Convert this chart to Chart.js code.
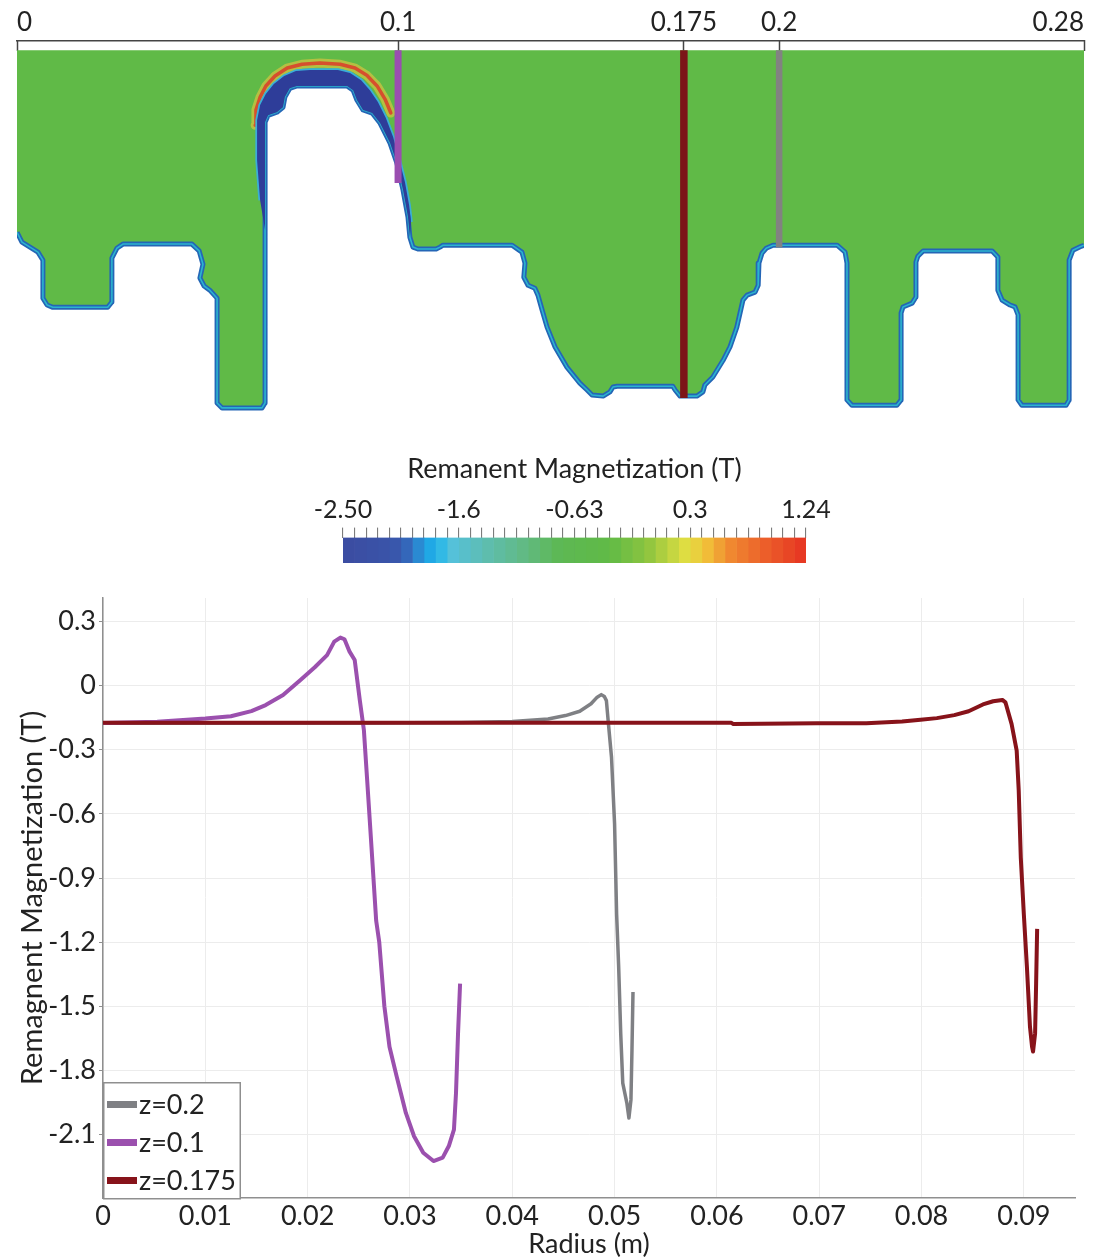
<!DOCTYPE html>
<html><head><meta charset="utf-8">
<script src="https://cdn.jsdelivr.net/npm/chart.js@4.4.1/dist/chart.umd.min.js"></script>
<style>
html,body{margin:0;padding:0;background:#fff;}
body{width:1102px;height:1260px;position:relative;overflow:hidden;}
.box{position:absolute;}
</style></head><body>
<div class="box" style="left:0;top:0;width:1102px;height:430px"><canvas id="geo"></canvas></div>
<div class="box" style="left:275px;top:445px;width:600px;height:125px"><canvas id="cbar"></canvas></div>
<div class="box" style="left:0;top:580px;width:1102px;height:680px"><canvas id="plot"></canvas></div>
<script>
// ================= DATA =================
// top cross-section: axis z (m), outline in millimetres [z, r]
const zRange = [0, 0.28];
const zTickValues = [0, 0.1, 0.175, 0.2, 0.28];
const zTickLabels = ['0', '0.1', '0.175', '0.2', '0.28'];
const rDepthRange = [-0.0024, 0.0997];
const boundaryMM = [
[280,51.2],[279.0,51.6],[277.1,52.5],[276.1,55.1],[276.1,91.8],[275.3,93.2],[263.7,93.2],[262.7,91.8],[262.7,69.5],[261.9,67.4],[260.6,66.9],[258.5,65.6],[257.4,63.0],[257.4,54.3],[255.9,52.7],[237.8,52.7],[236.4,54.1],[235.9,55.6],[235.9,64.8],[234.9,66.4],[232.5,67.4],[232.0,69.0],[232.0,91.8],[230.9,93.2],[219.1,93.2],[217.8,91.8],[217.8,55.9],[217.3,53.0],[215.2,51.2],[198.4,51.2],[196.6,52.0],[195.5,53.3],[194.7,55.9],[194.5,61.7],[193.7,63.5],[191.6,64.3],[190.5,65.6],[188.9,72.7],[187.1,77.9],[185.3,81.4],[182.6,85.8],[180.5,87.9],[180.0,89.7],[178.4,90.8],[174.0,90.8],[172.7,89.2],[172.1,88.2],[157.5,88.2],[156.4,88.4],[155.6,89.7],[153.8,90.8],[150.9,90.5],[149.6,89.2],[147.7,87.4],[144.3,83.2],[141.2,77.9],[139.1,72.7],[137.8,68.2],[136.7,64.3],[135.9,62.5],[134.1,61.7],[133.0,59.6],[133.3,55.9],[132.5,53.0],[129.9,51.2],[111.8,51.2],[111.0,51.7],[110.0,52.2],[105.2,52.2],[103.9,51.7],[103.1,49.1],[102.6,43.8],[101.3,36.7],[99.7,29.7],[97.9,24.4],[95.3,19.2],[93.2,16.5],[90.8,15.7],[89.2,13.1],[88.2,10.5],[86.6,9.4],[73.5,9.4],[71.6,10.0],[70.3,12.3],[69.8,15.0],[68.2,16.3],[65.9,17.1],[65.1,18.9],[65.1,92.6],[64.3,93.9],[53.8,93.9],[52.5,92.6],[52.5,65.1],[50.6,63.0],[49.1,61.9],[48.0,59.8],[48.8,56.2],[47.8,52.7],[45.9,50.9],[27.8,50.9],[26.2,52.0],[24.9,54.6],[24.9,66.1],[23.8,67.5],[9.4,67.5],[7.9,66.9],[6.8,65.1],[6.8,55.1],[5.5,53.0],[3.4,51.7],[1.3,50.4],[0,47.8]
];
const archOuterMM = [
[63.8,39.4],[63.0,28.9],[63.0,18.4],[63.8,14.4],[65.3,11.5],[67.4,8.9],[70.1,6.8],[73.2,5.5],[76.9,5.2],[84.2,5.2],[87.4,6.0],[90.3,7.9],[92.6,10.5],[94.7,13.6],[96.8,17.8],[98.7,22.8],[100.2,28.3],[101.8,34.6],[102.9,40.7],[103.4,45.1]
];
const archInnerMM = [
[103.1,49.1],[102.6,43.8],[101.3,36.7],[99.7,29.7],[97.9,24.4],[95.3,19.2],[93.2,16.5],[90.8,15.7],[89.2,13.1],[88.2,10.5],[86.6,9.4],[73.5,9.4],[71.6,10.0],[70.3,12.3],[69.8,15.0],[68.2,16.3],[65.9,17.1],[65.1,18.9],[65.1,47.2]
];
const archPeakMM = [
[62.5,19.7],[62.7,15.7],[63.8,12.3],[65.3,9.4],[67.7,6.8],[70.9,4.7],[74.8,3.7],[79.5,3.4],[84.8,3.7],[88.7,4.7],[91.8,6.6],[94.5,9.4],[96.6,12.9],[98.1,16.5]
];

// colour bar
const cbRange = [-2.5, 1.24];
const cbMajorValues = [-2.5, -1.565, -0.63, 0.305, 1.24];
const cbMajorLabels = ['-2.50', '-1.6', '-0.63', '0.3', '1.24'];
const cbMinorPerMajor = 10;
const cbBands = 40;

// line plot
const seriesLabels = ['z=0.2', 'z=0.1', 'z=0.175'];
const probeZ = [0.2, 0.1, 0.175];
const r02 = [0, 0.025, 0.035, 0.040, 0.0435, 0.0452, 0.0466, 0.0477, 0.0483, 0.0487, 0.0490, 0.0492, 0.0494, 0.0497, 0.0500, 0.0502, 0.0504, 0.0506, 0.0508, 0.0512, 0.0514, 0.0516, 0.0517, 0.0518];
const m02 = [-0.176, -0.175, -0.172, -0.168, -0.156, -0.140, -0.120, -0.085, -0.054, -0.042, -0.051, -0.070, -0.179, -0.335, -0.647, -1.070, -1.316, -1.627, -1.860, -1.953, -2.023, -1.938, -1.705, -1.433];
const r01 = [0, 0.0053, 0.0100, 0.0125, 0.0145, 0.0159, 0.0176, 0.0193, 0.0207, 0.0219, 0.0226, 0.0232, 0.0236, 0.0241, 0.0246, 0.0251, 0.0255, 0.0258, 0.0262, 0.0267, 0.0270, 0.0275, 0.0280, 0.0287, 0.0296, 0.0304, 0.0313, 0.0323, 0.0332, 0.0338, 0.0343, 0.0345, 0.0347, 0.0349];
const m01 = [-0.175, -0.169, -0.154, -0.143, -0.119, -0.091, -0.044, 0.026, 0.086, 0.143, 0.206, 0.225, 0.217, 0.159, 0.120, -0.068, -0.209, -0.428, -0.725, -1.100, -1.200, -1.500, -1.689, -1.828, -1.999, -2.108, -2.185, -2.224, -2.208, -2.154, -2.077, -1.906, -1.627, -1.394];
const r0175 = [0, 0.0614, 0.0616, 0.0698, 0.0746, 0.0781, 0.0799, 0.0815, 0.0832, 0.0846, 0.0860, 0.0870, 0.0879, 0.0882, 0.0888, 0.0893, 0.0895, 0.0897, 0.0900, 0.0903, 0.0906, 0.0908, 0.0909, 0.0911, 0.0912, 0.0913];
const m0175 = [-0.174, -0.174, -0.179, -0.176, -0.176, -0.168, -0.160, -0.152, -0.138, -0.120, -0.088, -0.073, -0.067, -0.078, -0.179, -0.304, -0.491, -0.803, -1.070, -1.316, -1.596, -1.689, -1.712, -1.627, -1.394, -1.138];
const rRange = [0, 0.095];
const mRange = [-2.397, 0.41];
const xTickLabels = ['0', '0.01', '0.02', '0.03', '0.04', '0.05', '0.06', '0.07', '0.08', '0.09'];
const yTickLabels = ['-2.1', '-1.8', '-1.5', '-1.2', '-0.9', '-0.6', '-0.3', '0', '0.3'];

// ================= STYLE =================
Chart.defaults.font.family = 'Lato, "Open Sans", sans-serif';
Chart.defaults.color = '#222';
const seriesStyle = [
  {color: '#7f8084', width: 3.5, order: 2, probeWidth: 6.5, probeColor: '#828282'},
  {color: '#9b50ae', width: 4, order: 1, probeWidth: 7, probeColor: '#9a4eb0'},
  {color: '#87131a', width: 4, order: 0, probeWidth: 7.5, probeColor: '#7c1518'}
];
const cbColorStops = [
 [-2.50,'#3b4ca1'],[-2.10,'#3a54a9'],[-1.98,'#3468bb'],[-1.86,'#2796db'],[-1.76,'#1bb4ec'],[-1.62,'#55c1da'],
 [-1.35,'#5ebdb0'],[-1.05,'#61ba85'],[-0.75,'#5db853'],[-0.35,'#60ba46'],[-0.05,'#8cc43f'],[0.28,'#e4df42'],
 [0.45,'#f1bb38'],[0.62,'#f08a30'],[0.90,'#ec602a'],[1.24,'#e63322']
];
function hex2rgb(h){ return [parseInt(h.substr(1,2),16),parseInt(h.substr(3,2),16),parseInt(h.substr(5,2),16)]; }
function cmap(v){
  for (let i = 0; i < cbColorStops.length - 1; i++) {
    const [v0,c0] = cbColorStops[i], [v1,c1] = cbColorStops[i+1];
    if (v <= v1 || i === cbColorStops.length - 2) {
      const t = Math.max(0, Math.min(1, (v - v0) / (v1 - v0)));
      const a = hex2rgb(c0), b = hex2rgb(c1);
      return 'rgb(' + a.map((x,k)=>Math.round(x + (b[k]-x)*t)).join(',') + ')';
    }
  }
}
const mm = p => ({x: p[0] / 1000, y: p[1] / 1000});

// ================= TOP: cross-section =================
const geoPolygon = [[zRange[0]*1000, 0], [zRange[1]*1000, 0]].concat(boundaryMM).map(mm);
const seriesR = [r02, r01, r0175];
const geoDatasets = [
  {data: geoPolygon, fill: 'shape', backgroundColor: '#60ba47', borderWidth: 0, order: 20},
  {data: archPeakMM.map(mm), fill: false, borderColor: 'rgba(236,196,64,0.6)', borderWidth: 9, borderJoinStyle: 'round', borderCapStyle: 'round', order: 19},
  {data: archPeakMM.map(mm), fill: false, borderColor: 'rgba(217,67,43,0.9)', borderWidth: 3.5, borderJoinStyle: 'round', borderCapStyle: 'round', order: 18},
  {data: archOuterMM.map(mm), fill: false, borderColor: '#3aaed8', borderWidth: 3.5, borderJoinStyle: 'round', order: 17},
  {data: boundaryMM.map(mm), fill: false, borderColor: '#2466b6', borderWidth: 5, borderJoinStyle: 'round', order: 16},
  {data: boundaryMM.map(mm), fill: false, borderColor: 'rgba(44,184,208,0.95)', borderWidth: 1.6, borderJoinStyle: 'round', order: 15},
  {data: archOuterMM.concat(archInnerMM).map(mm), fill: 'shape', backgroundColor: '#2e3d99', borderWidth: 0, order: 14}
];
probeZ.forEach((z, i) => {
  const r = seriesR[i];
  geoDatasets.push({data: [{x: z, y: 0}, {x: z, y: r[r.length-1]}], fill: false,
    borderColor: seriesStyle[i].probeColor, borderWidth: seriesStyle[i].probeWidth, order: 5 - i});
});

new Chart(document.getElementById('geo'), {
  type: 'line',
  data: {datasets: geoDatasets},
  options: {
    responsive: true, maintainAspectRatio: false, animation: false, devicePixelRatio: 1,
    layout: {padding: {left: 17, right: 18, top: 0, bottom: 0}},
    plugins: {legend: {display: false}, tooltip: {enabled: false}},
    elements: {point: {radius: 0, hoverRadius: 0}, line: {tension: 0}},
    events: [],
    scales: {
      x: {type: 'linear', position: 'top', min: zRange[0], max: zRange[1],
          afterBuildTicks: s => { s.ticks = zTickValues.map(v => ({value: v})); },
          afterFit: s => { s.height = 41; s.paddingLeft = 0; s.paddingRight = 0; },
          ticks: {autoSkip: false, maxRotation: 0, minRotation: 0, padding: 13, color: '#222', font: {size: 26},
                  align: 'inner', callback: (v, i) => zTickLabels[i]},
          grid: {drawOnChartArea: false, drawTicks: true, tickLength: -10, tickColor: '#444', tickWidth: 1.5},
          border: {display: true, color: '#444', width: 1.5}},
      y: {type: 'linear', display: false, reverse: true, min: rDepthRange[0], max: rDepthRange[1]}
    }
  }
});

// ================= COLOUR BAR =================
const cbTickValues = [];
for (let k = 0; k < cbMajorValues.length - 1; k++) {
  for (let j = 0; j < cbMinorPerMajor; j++) {
    cbTickValues.push(cbMajorValues[k] + (cbMajorValues[k+1] - cbMajorValues[k]) * j / cbMinorPerMajor);
  }
}
cbTickValues.push(cbMajorValues[cbMajorValues.length - 1]);
const bandDatasets = [];
for (let b = 0; b < cbBands; b++) {
  const lo = cbRange[0] + (cbRange[1]-cbRange[0]) * b / cbBands;
  const hi = cbRange[0] + (cbRange[1]-cbRange[0]) * (b+1) / cbBands;
  bandDatasets.push({data: [[lo, hi]], backgroundColor: cmap((lo+hi)/2), borderWidth: 0,
    barPercentage: 1, categoryPercentage: 1, grouped: false});
}
new Chart(document.getElementById('cbar'), {
  type: 'bar',
  data: {labels: ['M'], datasets: bandDatasets},
  options: {
    indexAxis: 'y', responsive: true, maintainAspectRatio: false, animation: false, devicePixelRatio: 1,
    events: [],
    layout: {padding: {left: 68, right: 69, top: 0, bottom: 7}},
    plugins: {legend: {display: false}, tooltip: {enabled: false},
      title: {display: true, text: 'Remanent Magnetization (T)', color: '#222',
              font: {size: 27, weight: 'normal'}, padding: {top: 8, bottom: 8}}},
    scales: {
      x: {type: 'linear', position: 'top', min: cbRange[0], max: cbRange[1], z: 1,
          afterBuildTicks: s => { s.ticks = cbTickValues.map(v => ({value: v})); },
          afterFit: s => { s.height = 44.2; s.paddingLeft = 0; s.paddingRight = 0; },
          ticks: {autoSkip: false, maxRotation: 0, minRotation: 0, padding: 3, color: '#222', font: {size: 25},
                  callback: (v, i) => (i % cbMinorPerMajor === 0 ? cbMajorLabels[i / cbMinorPerMajor] : '')},
          grid: {drawOnChartArea: true, lineWidth: 1.2, tickLength: 10, tickColor: '#6f6f6f', tickWidth: 1,
                 color: ctx => ((ctx.index % cbMinorPerMajor === 0 && ctx.index > 0 && ctx.index < cbTickValues.length - 1) ? 'rgba(55,55,55,0.7)' : 'rgba(0,0,0,0)')},
          border: {display: false}},
      y: {display: false}
    }
  }
});

// ================= BOTTOM: line plot =================
const seriesM = [m02, m01, m0175];
const lineDatasets = seriesLabels.map((lab, i) => ({
  label: lab,
  data: seriesR[i].map((r, k) => ({x: r, y: seriesM[i][k]})),
  borderColor: seriesStyle[i].color, backgroundColor: seriesStyle[i].color,
  borderWidth: seriesStyle[i].width, order: seriesStyle[i].order,
  fill: false, pointRadius: 0, borderJoinStyle: 'round', borderCapStyle: 'butt', tension: 0
}));
const xTickValues = xTickLabels.map(Number);
const yTickValues = yTickLabels.map(Number);

const insideLegend = {
  id: 'insideLegend',
  afterDraw(chart) {
    const {ctx, chartArea} = chart;
    const w = 138, h = 116;
    const x0 = chartArea.left, y0 = chartArea.bottom - h;
    ctx.save();
    ctx.fillStyle = '#fff';
    ctx.fillRect(x0, y0, w, h);
    ctx.strokeStyle = '#8f8f8f'; ctx.lineWidth = 1.5;
    ctx.strokeRect(x0 + 0.75, y0 + 0.75, w - 1.5, h);
    ctx.font = '27px Lato, "Open Sans", sans-serif';
    ctx.textBaseline = 'middle'; ctx.textAlign = 'left';
    chart.data.datasets.forEach((ds, i) => {
      const cy = y0 + 22.5 + i * 38;
      ctx.fillStyle = ds.borderColor;
      ctx.fillRect(x0 + 4, cy - 3.5, 30, 7);
      ctx.fillStyle = '#222';
      ctx.fillText(ds.label, x0 + 36, cy + 1);
    });
    ctx.restore();
  }
};

new Chart(document.getElementById('plot'), {
  type: 'line',
  data: {datasets: lineDatasets},
  plugins: [insideLegend],
  options: {
    responsive: true, maintainAspectRatio: false, animation: false, devicePixelRatio: 1,
    events: [],
    layout: {padding: {left: 0, right: 27, top: 18, bottom: 0}},
    plugins: {legend: {display: false}, tooltip: {enabled: false}},
    scales: {
      x: {type: 'linear', min: rRange[0], max: rRange[1],
          afterBuildTicks: s => { s.ticks = xTickValues.map(v => ({value: v})); },
          afterFit: s => { s.height = 62; s.paddingLeft = 0; s.paddingRight = 0; },
          ticks: {autoSkip: false, maxRotation: 0, minRotation: 0, padding: 2, color: '#222', font: {size: 27},
                  callback: (v, i) => xTickLabels[i]},
          grid: {color: '#ececec', lineWidth: 1, drawTicks: false},
          border: {color: '#8f8f8f', width: 1.5},
          title: {display: true, text: 'Radius (m)', color: '#222', font: {size: 27}, padding: {top: 0, bottom: 0}}},
      y: {type: 'linear', min: mRange[0], max: mRange[1],
          afterBuildTicks: s => { s.ticks = yTickValues.map(v => ({value: v})); },
          afterFit: s => { s.width = 103; s.paddingTop = 0; s.paddingBottom = 0; },
          ticks: {autoSkip: false, padding: 3, color: '#222', font: {size: 27},
                  callback: (v, i) => yTickLabels[i]},
          grid: {color: '#ececec', lineWidth: 1, tickColor: '#8f8f8f', tickLength: 4},
          border: {color: '#8f8f8f', width: 1.5},
          title: {display: true, text: 'Remagnent Magnetization (T)', color: '#222', font: {size: 29}, padding: {top: 15, bottom: 0}}}
    }
  }
});
</script>
</body></html>
